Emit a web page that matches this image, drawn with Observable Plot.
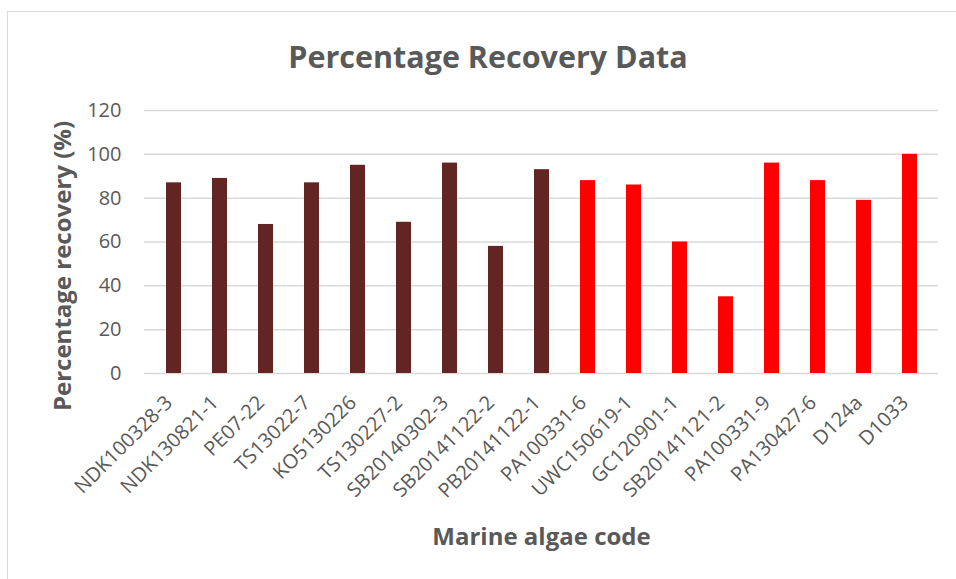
<!DOCTYPE html>
<html>
<head>
<meta charset="utf-8">
<script src="https://cdn.jsdelivr.net/npm/d3@7"></script>
<script src="https://cdn.jsdelivr.net/npm/@observablehq/plot@0.6"></script>
<style>
  html, body { margin: 0; padding: 0; background: #fff; }
  #wrap { position: relative; width: 956px; height: 579px; overflow: hidden; font-family: "Open Sans", sans-serif; }
  #border { position: absolute; left: 7px; top: 11px; width: 970px; height: 600px; border: 1.5px solid #d9d9d9; box-sizing: border-box; }
  #title { position: absolute; left: 0; width: 976px; top: 36px; text-align: center; font-size: 30.5px; font-weight: bold; color: #595959; line-height: 40px; }
  #chart { position: absolute; left: 0; top: 90px; }
</style>
</head>
<body>
<div id="wrap">
  <div id="border"></div>
  <div id="title">Percentage Recovery Data</div>
  <div id="chart"></div>
</div>
<script>
const codes = ["NDK100328-3","NDK130821-1","PE07-22","TS13022-7","KO5130226","TS130227-2","SB20140302-3","SB20141122-2","PB20141122-1","PA100331-6","UWC150619-1","GC120901-1","SB20141121-2","PA100331-9","PA130427-6","D124a","D1033"];
const recovery = [87, 89, 68, 87, 95, 69, 96, 58, 93, 88, 86, 60, 35, 96, 88, 79, 100];
const groups = ["A","A","A","A","A","A","A","A","A","B","B","B","B","B","B","B","B"];
const yTicks = [0, 20, 40, 60, 80, 100, 120];

const data = codes.map((c, i) => ({code: c, value: recovery[i], group: groups[i]}));

const chart = Plot.plot({
  width: 956,
  height: 470,
  marginLeft: 144,
  marginRight: 18,
  marginTop: 20,
  marginBottom: 187,
  style: {fontFamily: "Open Sans, sans-serif", color: "#595959", background: "transparent"},
  x: {domain: codes, paddingInner: 0.68, paddingOuter: 0.34},
  y: {domain: [0, 120]},
  color: {domain: ["A","B"], range: ["#632523", "#ff0000"]},
  marks: [
    Plot.ruleY(yTicks, {stroke: "#d9d9d9", strokeWidth: 1.5}),
    Plot.barY(data, {x: "code", y: "value", fill: "group"}),
    Plot.axisY(yTicks, {tickSize: 0, tickPadding: 23, fontSize: 20, fill: "#595959", label: null}),
    Plot.axisX({tickSize: 0, tickPadding: 26, dx: -5, tickRotate: -45, fontSize: 20, fill: "#595959", label: null}),
    Plot.text(["Percentage recovery (%)"], {frameAnchor: "left", textAnchor: "middle", rotate: -90, dx: -81, dy: 24, fontSize: 24, fontWeight: "bold", fill: "#595959"}),
    Plot.text(["Marine algae code"], {frameAnchor: "bottom", dy: 171, fontSize: 24, fontWeight: "bold", fill: "#595959"})
  ]
});
document.getElementById("chart").appendChild(chart);
</script>
</body>
</html>
